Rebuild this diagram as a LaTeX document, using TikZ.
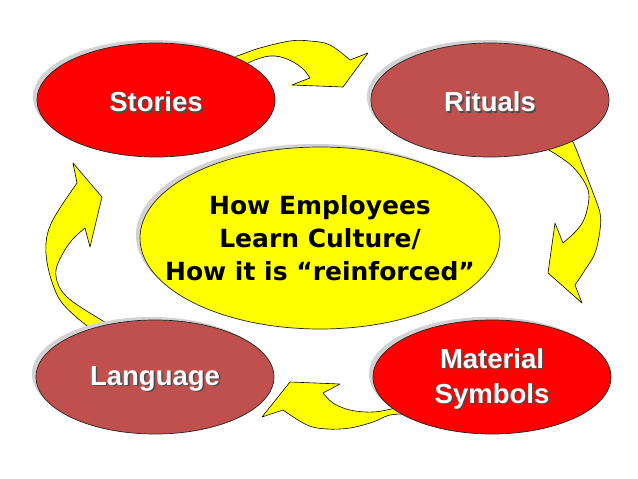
\documentclass[tikz,border=0pt]{standalone}
\usepackage{fontspec}
\setmainfont{Liberation Sans}
\newfontfamily\centerfont{DejaVu Sans}
\usetikzlibrary{shapes.geometric,shadows}
\definecolor{brightred}{HTML}{FF0000}
\definecolor{brick}{HTML}{C0504D}
\definecolor{lemon}{HTML}{FFFF00}
\newcommand\txtshadow[1]{\raisebox{-2.5pt}[\height][\depth]{\makebox[0pt][l]{\kern1.6pt\raisebox{-1.6pt}{\color{black!70}#1}}#1}}
\tikzset{
  bubble/.style={ellipse, draw=black!85, line width=0.7pt, minimum width=238pt, minimum height=114pt,
    inner sep=0pt, drop shadow={shadow xshift=-4pt, shadow yshift=3pt, fill=gray!35, opacity=1},
    text=white, font=\bfseries\fontsize{27.5}{35}\selectfont, align=center},
  blockarrow/.style={fill=lemon, draw=black, line width=0.6pt, line join=round},
  coretext/.style={text=black, align=center, font=\centerfont\bfseries\fontsize{25}{33}\selectfont},
}
\begin{document}
\begin{tikzpicture}[x=1pt,y=-1pt]
\useasboundingbox[fill=white] (0,0) rectangle (638,479);
% block arrows
\draw[blockarrow] plot[smooth,tension=0.6] coordinates {(225,60) (240,55) (260,48) (290,41) (310,41) (330,45) (350,60)}
  -- (368,53) -- (343,87) -- (292,85) -- (310,78)
  -- plot[smooth,tension=0.6] coordinates {(310,78) (302,68) (287,59) (270,56) (250,62) (235,72)} -- cycle;
\draw[blockarrow] plot[smooth,tension=0.6] coordinates {(565,132) (573,142) (583,167) (592,190) (600,213) (600,230) (595,253) (585,270) (575,285)}
  -- (582,303) -- (548,273) -- (555,223) -- (563,243)
  -- plot[smooth,tension=0.6] coordinates {(563,243) (577,230) (585,217) (589,197) (585,183) (573,167) (557,155) (540,145)} -- cycle;
\draw[blockarrow] plot[smooth,tension=0.6] coordinates {(410,402) (395,408) (373,412) (350,410) (333,403) (323,393)}
  -- (340,384) -- (290,382) -- (262,417) -- (283,410)
  -- plot[smooth,tension=0.6] coordinates {(283,410) (307,425) (327,429) (350,428) (373,422) (390,415) (410,414)} -- cycle;
\draw[blockarrow] plot[smooth,tension=0.6] coordinates {(100,336) (75,316) (60,300) (52,282) (47,262) (46,243) (50,226) (60,208) (77,183)}
  -- (73,163) -- (102,197) -- (90,247) -- (85,228)
  -- plot[smooth,tension=0.6] coordinates {(85,228) (72,240) (62,255) (56,270) (58,284) (66,296) (82,308) (118,330)} -- cycle;
% ellipses
\node[bubble, fill=lemon, minimum width=360pt, minimum height=182pt,
  label={[coretext, name=coretxt]center:How Employees\\Learn Culture/\\How it is “reinforced”}] (core) at (320,238) {};
\node[bubble, fill=brightred] (stories) at (156,100) {\txtshadow{Stories}};
\node[bubble, fill=brick] (rituals) at (490,100) {\txtshadow{Rituals}};
\node[bubble, fill=brick] (language) at (155,377) {\txtshadow{Language}};
\node[bubble, fill=brightred] (symbols) at (492,377) {\txtshadow{Material}\\\txtshadow{Symbols}};
\end{tikzpicture}
\end{document}
